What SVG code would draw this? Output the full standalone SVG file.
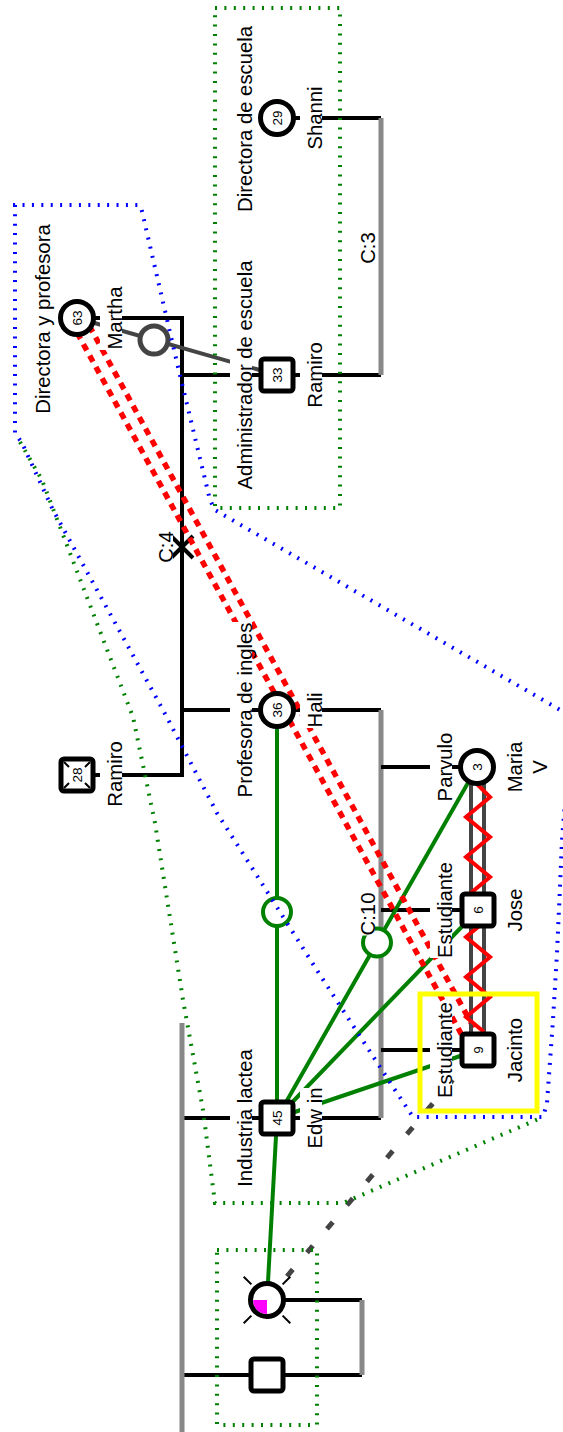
<svg xmlns="http://www.w3.org/2000/svg" width="563" height="1432" viewBox="0 0 563 1432">
<style>
.lbl{font-family:"Liberation Sans",Arial,sans-serif;font-size:20.3px;fill:#000}
.num{font-family:"Liberation Sans",Arial,sans-serif;font-size:13.5px;fill:#000}
.bg{fill:#fff}
.nd{fill:#fff;stroke:#000;stroke-width:5}
.blk{stroke:#000;stroke-width:4;fill:none}
.gry{stroke:#888;stroke-width:5;fill:none}
.grn{stroke:#008000;stroke-width:4;fill:none}
.grc{stroke:#008000;stroke-width:4;fill:#fff}
.dk{stroke:#444;stroke-width:4;fill:none}
.dkc{stroke:#444;stroke-width:5;fill:#fff}
.rdd{stroke:#f00;stroke-width:5.5;fill:none;stroke-dasharray:7 6}
.zig{stroke:#f00;stroke-width:4;fill:none;stroke-linejoin:miter}
.dkd{stroke:#444;stroke-width:5;fill:none;stroke-dasharray:9 22}
.dotb{stroke:#0000ff;stroke-width:4;fill:none;stroke-dasharray:2 7.4}
.dotg{stroke:#008000;stroke-width:4;fill:none;stroke-dasharray:2 7.4}
.tick{stroke:#000;stroke-width:2}
</style>

<g id="connectors">
  <path class="blk" d="M77,318 H182 V775 H77"/>
  <path class="blk" d="M182,375 H277"/>
  <path class="blk" d="M182,710 H277"/>
  <path class="blk" d="M277,118 H381 M277,375 H381"/>
  <path class="gry" d="M381,118 V375"/>
  <path class="blk" d="M277,710 H381 M277,1118 H381"/>
  <path class="gry" d="M381,710 V1118"/>
  <path class="blk" d="M381,767 H477 M381,910 H478 M381,1050 H478"/>
  <path class="blk" d="M182,1118 H277 M182,1375 H267 M267,1300 H362 M267,1375 H362"/>
  <path class="gry" d="M182,1023 V1432 M362,1300 V1375"/>
  <path class="blk" d="M171,536 L193,558 M193,536 L171,558"/>
  <path class="dk" d="M77,318 L277,375"/>
  <circle class="dkc" cx="154" cy="340" r="14"/>
  <path class="grn" d="M277,710 L277,1118 M277,1118 L477,767 M277,1118 L478,910 M277,1118 L478,1050 M267,1300 L277,1118"/>
  <circle class="grc" cx="277" cy="912" r="14"/>
  <circle class="grc" cx="377" cy="942.5" r="14"/>
  <path class="rdd" d="M83.1,314.6 L484.1,1046.6 M70.9,321.4 L471.9,1053.4"/>
  <path class="dk" d="M471,767 V1050 M484,767 V1050"/>
  <path class="zig" d="M477,784 L490,797 L466,817 L490,837 L466,857 L490,877 L466,897 L490,917 L466,937 L490,957 L466,977 L490,997 L466,1017 L484,1032"/>
  <path class="dkd" d="M267,1300 L478,1050"/>
  <g transform="translate(375,248) rotate(-90)"><rect class="bg" x="-16" y="-22" width="32" height="22"/><text class="lbl" text-anchor="middle">C:3</text></g>
  <g transform="translate(173,547) rotate(-90)"><rect class="bg" x="-16" y="-22" width="32" height="22"/><text class="lbl" text-anchor="middle">C:4</text></g>
  <g transform="translate(375,914) rotate(-90)"><rect class="bg" x="-21.5" y="-22" width="43" height="22"/><text class="lbl" text-anchor="middle">C:10</text></g>
</g>

<g id="n63">
  <g transform="translate(50,319) rotate(-90)"><rect class="bg" x="-95" y="-22" width="190" height="22"/><text class="lbl" text-anchor="middle">Directora y profesora</text></g>
  <g transform="translate(122,318) rotate(-90)"><rect class="bg" x="-32" y="-22" width="64" height="22"/><text class="lbl" text-anchor="middle">Martha</text></g>
  <circle class="nd" cx="77" cy="318" r="16.5"/>
  <text class="num" text-anchor="middle" transform="translate(81.8,318) rotate(-90)">63</text>
</g>

<g id="n29">
  <g transform="translate(252,119) rotate(-90)"><rect class="bg" x="-93" y="-22" width="186" height="22"/><text class="lbl" text-anchor="middle">Directora de escuela</text></g>
  <g transform="translate(322,118) rotate(-90)"><rect class="bg" x="-32" y="-22" width="64" height="22"/><text class="lbl" text-anchor="middle">Shanni</text></g>
  <circle class="nd" cx="277" cy="118" r="16.5"/>
  <text class="num" text-anchor="middle" transform="translate(281.8,118) rotate(-90)">29</text>
</g>

<g id="n33">
  <g transform="translate(252,375) rotate(-90)"><rect class="bg" x="-115" y="-22" width="230" height="22"/><text class="lbl" text-anchor="middle">Administrador de escuela</text></g>
  <g transform="translate(322,375) rotate(-90)"><rect class="bg" x="-33" y="-22" width="66" height="22"/><text class="lbl" text-anchor="middle">Ramiro</text></g>
  <rect class="nd" x="261" y="359" width="32" height="32" rx="3"/>
  <text class="num" text-anchor="middle" transform="translate(281.8,375) rotate(-90)">33</text>
</g>

<g id="n28">
  <g transform="translate(122,774) rotate(-90)"><rect class="bg" x="-33" y="-22" width="66" height="22"/><text class="lbl" text-anchor="middle">Ramiro</text></g>
  <rect class="nd" x="61" y="759" width="32" height="32" rx="3"/>
  <path class="tick" d="M64,762 L69,767 M90,762 L85,767 M64,788 L69,783 M90,788 L85,783"/>
  <text class="num" text-anchor="middle" transform="translate(81.8,775) rotate(-90)">28</text>
</g>

<g id="n36">
  <g transform="translate(252,710) rotate(-90)"><rect class="bg" x="-88" y="-22" width="176" height="22"/><text class="lbl" text-anchor="middle">Profesora de ingles</text></g>
  <g transform="translate(322,710) rotate(-90)"><rect class="bg" x="-18" y="-22" width="36" height="22"/><text class="lbl" text-anchor="middle">Hali</text></g>
  <circle class="nd" cx="277" cy="710" r="16.5"/>
  <text class="num" text-anchor="middle" transform="translate(281.8,710) rotate(-90)">36</text>
</g>

<g id="n45">
  <g transform="translate(252,1118) rotate(-90)"><rect class="bg" x="-69" y="-22" width="138" height="22"/><text class="lbl" text-anchor="middle">Industria lactea</text></g>
  <g transform="translate(322,1118) rotate(-90)"><rect class="bg" x="-30" y="-22" width="60" height="22"/><text class="lbl" text-anchor="middle">Edw in</text></g>
  <rect class="nd" x="261" y="1102" width="32" height="32" rx="3"/>
  <text class="num" text-anchor="middle" transform="translate(281.8,1118) rotate(-90)">45</text>
</g>

<g id="n3">
  <g transform="translate(452,767) rotate(-90)"><rect class="bg" x="-34.5" y="-22" width="69" height="22"/><text class="lbl" text-anchor="middle">Parvulo</text></g>
  <g transform="translate(522,767) rotate(-90)"><text class="lbl" text-anchor="middle">Maria</text></g>
  <g transform="translate(547,767) rotate(-90)"><text class="lbl" text-anchor="middle">V</text></g>
  <circle class="nd" cx="477" cy="767" r="16.5"/>
  <text class="num" text-anchor="middle" transform="translate(481.8,767) rotate(-90)">3</text>
</g>

<g id="n6">
  <g transform="translate(452,910) rotate(-90)"><rect class="bg" x="-48" y="-22" width="96" height="22"/><text class="lbl" text-anchor="middle">Estudiante</text></g>
  <g transform="translate(522,910) rotate(-90)"><text class="lbl" text-anchor="middle">Jose</text></g>
  <rect class="nd" x="462" y="894" width="32" height="32" rx="3"/>
  <text class="num" text-anchor="middle" transform="translate(482.8,910) rotate(-90)">6</text>
</g>

<g id="n9">
  <g transform="translate(452,1050) rotate(-90)"><rect class="bg" x="-48" y="-22" width="96" height="22"/><text class="lbl" text-anchor="middle">Estudiante</text></g>
  <g transform="translate(522,1050) rotate(-90)"><text class="lbl" text-anchor="middle">Jacinto</text></g>
  <rect class="nd" x="462" y="1034" width="32" height="32" rx="3"/>
  <text class="num" text-anchor="middle" transform="translate(482.8,1050) rotate(-90)">9</text>
</g>

<g id="nmother">
  <path class="tick" d="M251.4,1284.4 L243.7,1276.7 M282.6,1284.4 L290.3,1276.7 M251.4,1315.6 L243.7,1323.3 M282.6,1315.6 L290.3,1323.3"/>
  <circle class="nd" cx="267" cy="1300" r="16.5"/>
  <path d="M267,1300 L253,1300 A14,14 0 0 0 267,1314 Z" fill="#ff00ff"/>
</g>

<g id="nfather">
  <rect class="nd" x="251" y="1359" width="32" height="32" rx="3"/>
</g>

<g id="highlight">
  <rect x="420" y="994" width="117" height="117" fill="none" stroke="#ffff00" stroke-width="5"/>
</g>

<g id="regions">
  <rect class="dotg" x="215" y="8" width="125" height="500"/>
  <rect class="dotg" x="217" y="1250" width="100" height="175"/>
  <path class="dotg" d="M20,442 L42,480 L83,587 L133,717 L155,823 L183,1000 L203,1110 L215,1203 L343,1203 L543,1117"/>
  <path class="dotb" d="M600,733 L215,510 L210,500 L178,367 L141,207 L138,205 L15,205 L15,433 L22,443 L53,510 L163,710 L217,813 L247,860 L320,975 L393,1087 L413,1117 L543,1117 L547,1103 L553,1020 L557,953 L560,887 L562,840 L566,790 Z"/>
</g>
</svg>
